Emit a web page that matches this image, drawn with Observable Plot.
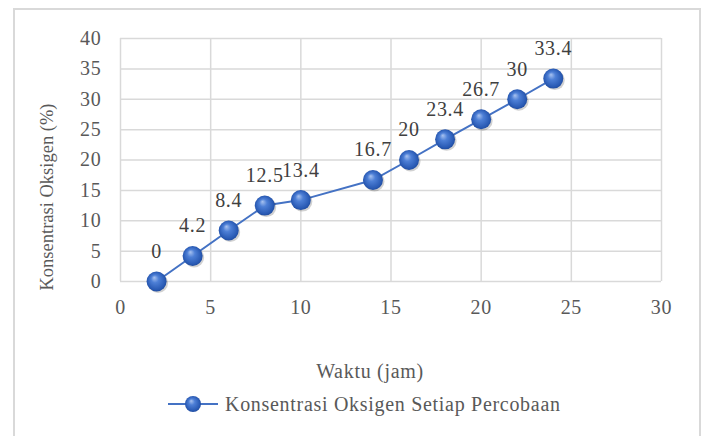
<!DOCTYPE html>
<html>
<head>
<meta charset="utf-8">
<script src="https://cdn.jsdelivr.net/npm/d3@7"></script>
<script src="https://cdn.jsdelivr.net/npm/@observablehq/plot@0.6"></script>
<style>
  html, body { margin: 0; padding: 0; background: #fff; }
  #wrap { position: relative; width: 703px; height: 436px; overflow: hidden; font-family: 'Liberation Serif', serif; color: #595959; }
  #border { position: absolute; left: 13px; top: 8px; width: 688px; height: 440px; border: 2px solid #d9d9d9; box-sizing: border-box; }
  #chart { position: absolute; left: 0; top: 0; }
  #chart svg text { letter-spacing: 0.7px; }
  #xlabel { position: absolute; left: 0; width: 740px; text-align: center; top: 359px; font-size: 20px; letter-spacing: 0.7px; line-height: 24px; }
  #ylabel { position: absolute; left: 47px; top: 197px; font-size: 18.5px; white-space: nowrap; transform: translate(-50%, -50%) rotate(-90deg); }
  #legend { position: absolute; left: 168px; top: 392px; display: flex; align-items: center; font-size: 20px; letter-spacing: 0.7px; line-height: 24px; }
</style>
</head>
<body>
<div id="wrap">
  <div id="border"></div>
  <div id="chart"></div>
  <div id="xlabel"></div>
  <div id="ylabel"></div>
  <div id="legend"></div>
</div>
<script>
const waktu = [2, 4, 6, 8, 10, 14, 16, 18, 20, 22, 24];
const konsentrasi = [0, 4.2, 8.4, 12.5, 13.4, 16.7, 20, 23.4, 26.7, 30, 33.4];
const xTicks = [0, 5, 10, 15, 20, 25, 30];
const yTicks = [0, 5, 10, 15, 20, 25, 30, 35, 40];
const seriesName = "Konsentrasi Oksigen Setiap Percobaan";
const xLabel = "Waktu (jam)";
const yLabel = "Konsentrasi Oksigen (%)";

const data = waktu.map((x, i) => ({x, y: konsentrasi[i]}));
const blue = "#4472C4";
const fs = 20;
const serif = "'Liberation Serif', serif";

const chart = Plot.plot({
  width: 703,
  height: 340,
  marginLeft: 120,
  marginRight: 42,
  marginTop: 38,
  marginBottom: 59,
  style: {fontFamily: serif, fontSize: fs + "px", color: "#595959", background: "transparent"},
  x: {domain: [0, 30], label: null},
  y: {domain: [0, 40], label: null},
  marks: [
    Plot.gridX(xTicks, {stroke: "#d9d9d9", strokeOpacity: 1, strokeWidth: 1.5}),
    Plot.gridY(yTicks, {stroke: "#d9d9d9", strokeOpacity: 1, strokeWidth: 1.5}),
    Plot.axisX(xTicks, {tickSize: 0, tickPadding: 18, fontSize: fs, fontFamily: serif, fill: "#595959", label: null, tickFormat: d => d}),
    Plot.axisY(yTicks, {tickSize: 0, tickPadding: 19, fontSize: fs, fontFamily: serif, fill: "#595959", label: null, tickFormat: d => d}),
    Plot.line(data, {x: "x", y: "y", stroke: blue, strokeWidth: 2}),
    Plot.dot(data, {x: "x", y: "y", r: 10, dx: 1.5, dy: 1.5, fill: "#000", fillOpacity: 0.18, stroke: "none"}),
    Plot.dot(data, {x: "x", y: "y", r: 10, fill: "url(#ball)", stroke: "none"}),
    Plot.text(data, {x: "x", y: "y", text: d => String(d.y), dy: -30, fontSize: fs, fontFamily: serif, fill: "#404040"})
  ]
});

const svgns = "http://www.w3.org/2000/svg";
const gradStops = `<stop offset="0" stop-color="#a9c3f0"/>
      <stop offset="0.35" stop-color="#4d7fd6"/>
      <stop offset="0.8" stop-color="#2a5bb5"/>
      <stop offset="1" stop-color="#1c4696"/>`;
const defs = document.createElementNS(svgns, "defs");
defs.innerHTML = `<radialGradient id="ball" cx="0.5" cy="0.5" r="0.55" fx="0.38" fy="0.3">${gradStops}</radialGradient>`;
chart.insertBefore(defs, chart.firstChild);
document.getElementById("chart").appendChild(chart);

document.getElementById("xlabel").textContent = xLabel;
document.getElementById("ylabel").textContent = yLabel;

// legend
const leg = document.getElementById("legend");
const ls = document.createElementNS(svgns, "svg");
ls.setAttribute("width", 52);
ls.setAttribute("height", 24);
ls.innerHTML = `<defs><radialGradient id="ball2" cx="0.5" cy="0.5" r="0.55" fx="0.38" fy="0.3">${gradStops}</radialGradient></defs>
  <line x1="0" x2="50" y1="12" y2="12" stroke="${blue}" stroke-width="2"/>
  <circle cx="25" cy="12" r="8" fill="url(#ball2)"/>`;
leg.appendChild(ls);
const lt = document.createElement("span");
lt.textContent = seriesName;
lt.style.marginLeft = "5px";
leg.appendChild(lt);
</script>
</body>
</html>
